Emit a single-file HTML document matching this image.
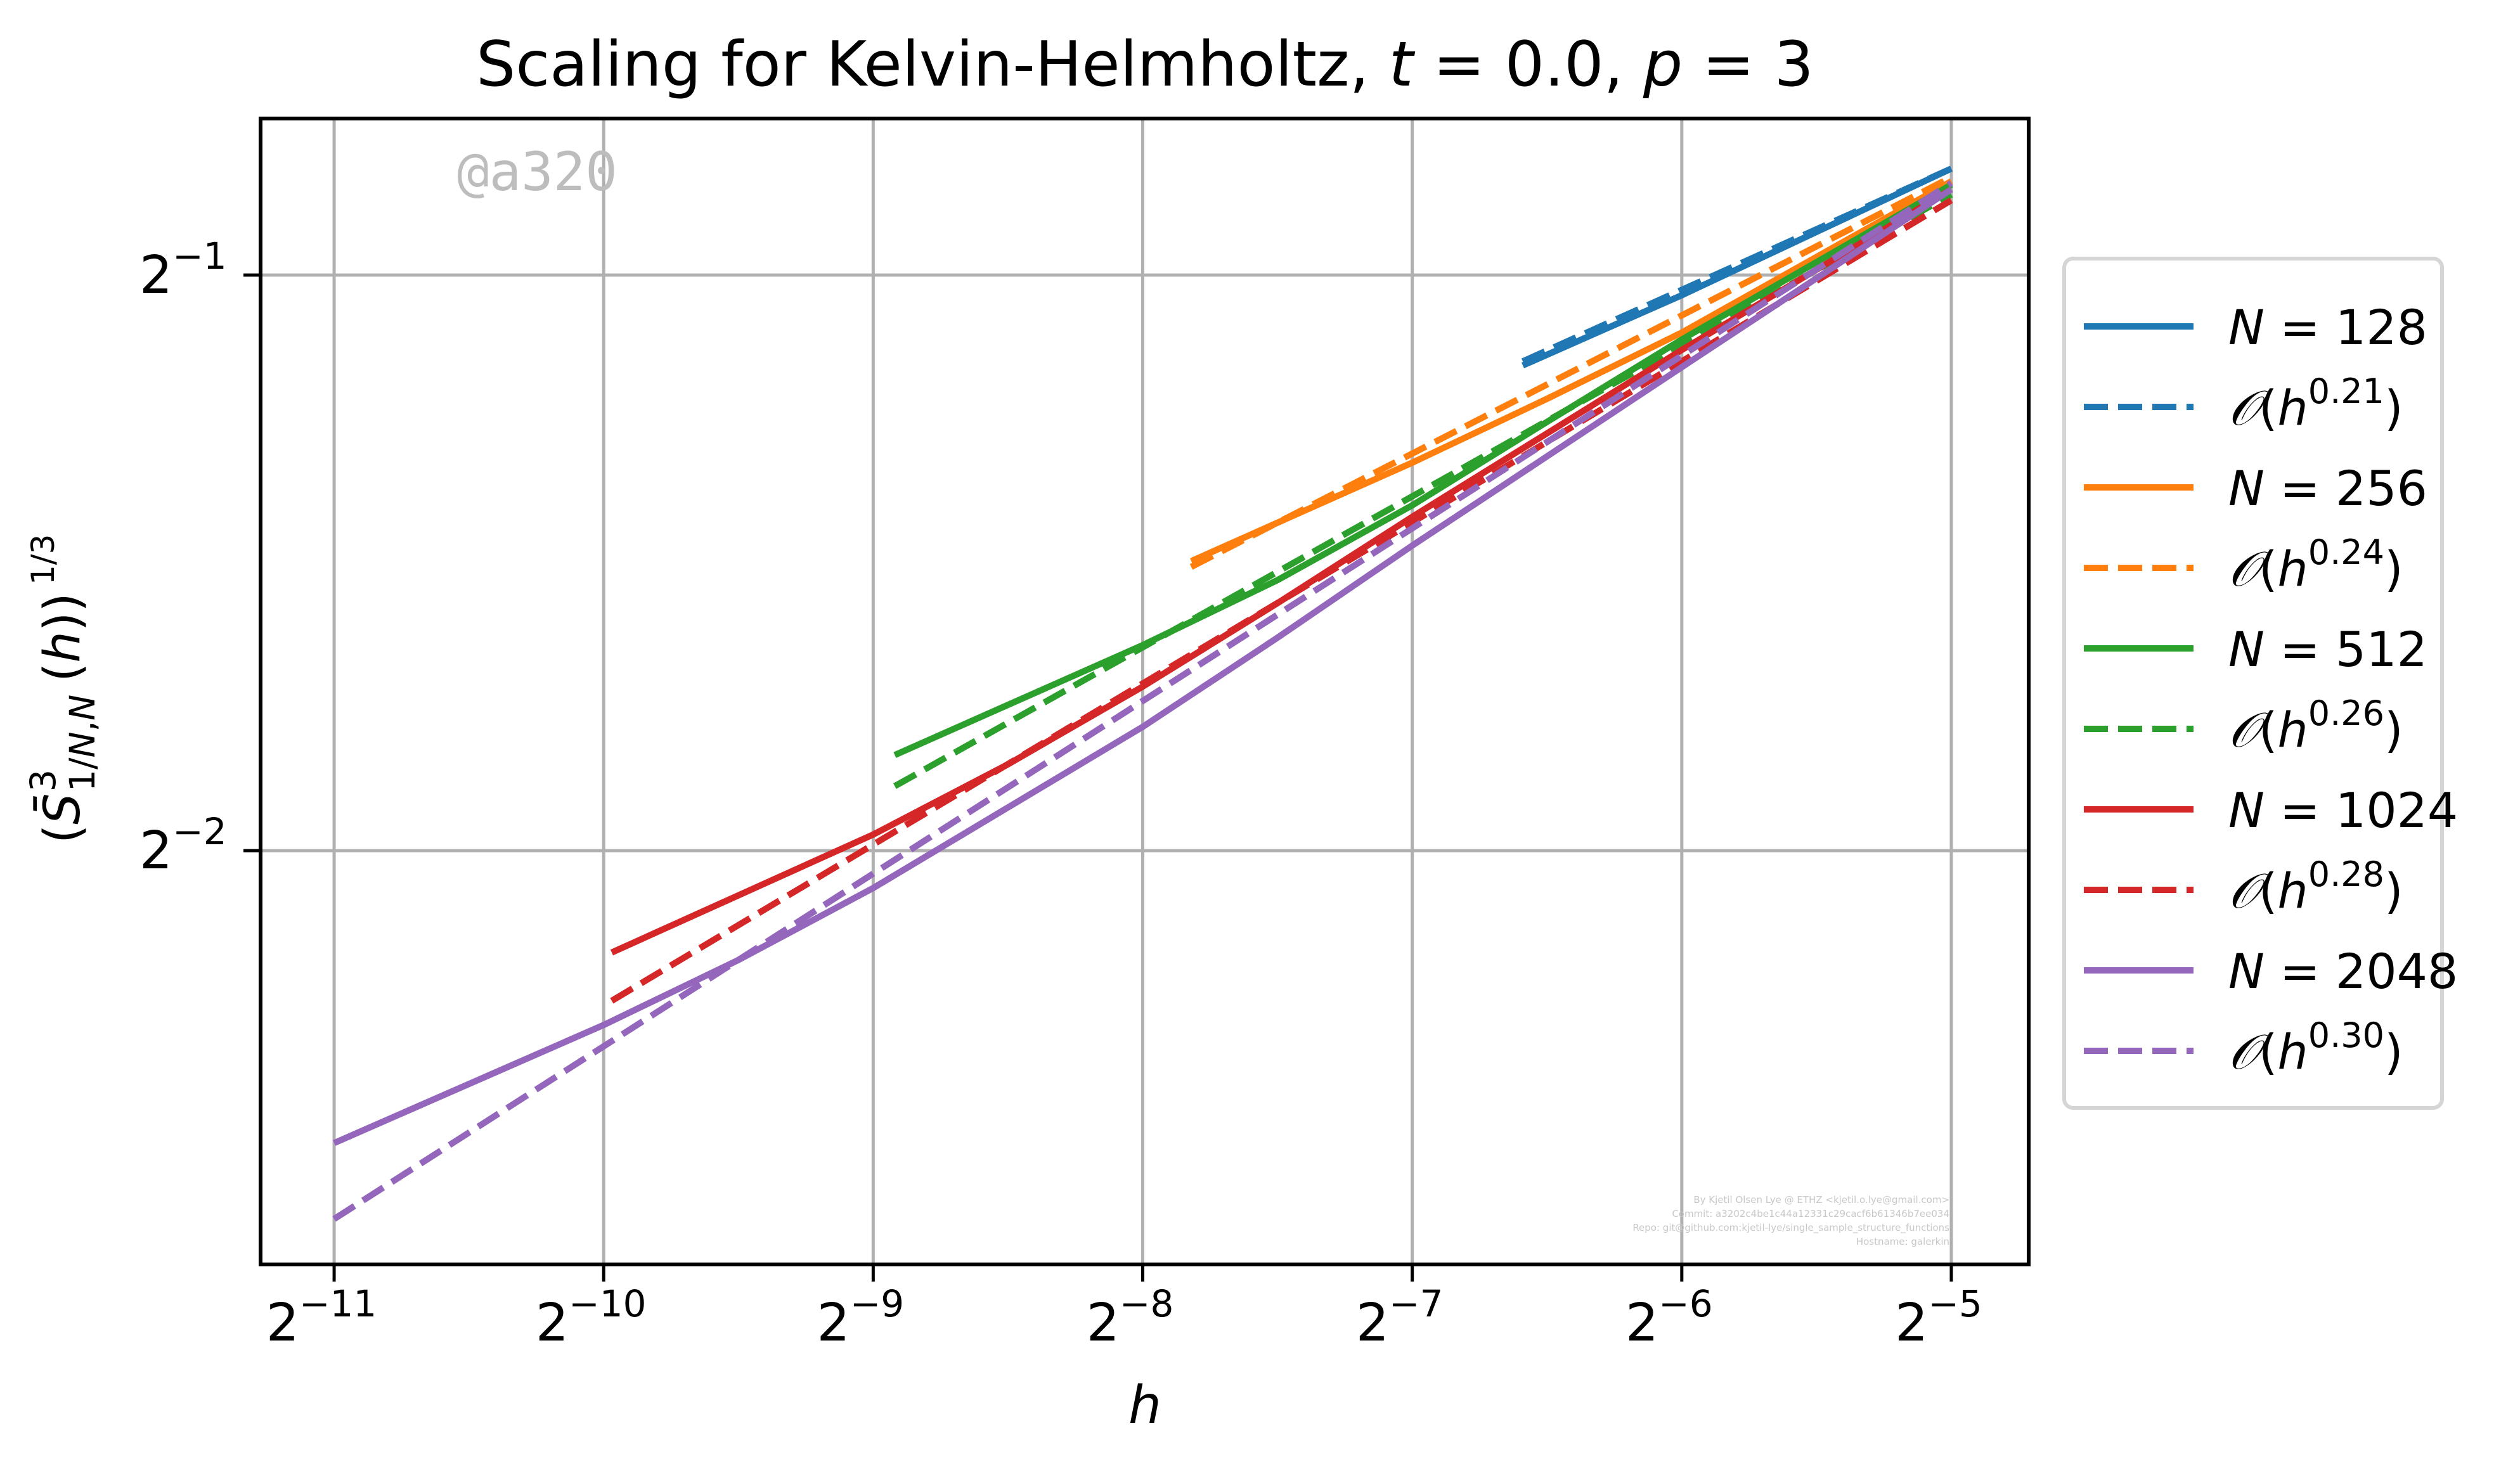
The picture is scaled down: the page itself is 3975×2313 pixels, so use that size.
<!DOCTYPE html>
<html><head><meta charset="utf-8"><style>
html,body{margin:0;padding:0;background:#fff}
svg{display:block}
text{font-family:"DejaVu Sans","Liberation Sans",sans-serif}
</style></head><body>
<svg id="chart" width="3975" height="2313" viewBox="0 0 3975 2313" xmlns="http://www.w3.org/2000/svg">
<rect width="3975" height="2313" fill="#fff"/>
<text x="1806" y="135" font-size="98" text-anchor="middle">Scaling for Kelvin-Helmholtz, <tspan font-style="italic">t</tspan> = 0.0, <tspan font-style="italic">p</tspan> = 3</text>
<g id="grid"></g>
<g id="series"></g>
<text x="721" y="300" font-size="84" fill="#bdbdbd" style="font-family:'DejaVu Sans Mono','Liberation Mono',monospace">@a320</text>
<g font-size="15" fill="#c8c8c8" text-anchor="end">
<text x="3075" y="1898">By Kjetil Olsen Lye @ ETHZ &lt;kjetil.o.lye@gmail.com&gt;</text>
<text x="3075" y="1920">Commit: a3202c4be1c44a12331c29cacf6b61346b7ee034</text>
<text x="3075" y="1942">Repo: git@github.com:kjetil-lye/single_sample_structure_functions</text>
<text x="3075" y="1964">Hostname: galerkin</text>
</g>
<rect x="411" y="187" width="2789" height="1808" fill="none" stroke="#000" stroke-width="6"/>
<g id="ticks"></g>
<text x="1806" y="2245" font-size="82" font-style="italic" text-anchor="middle">h</text>
<g transform="translate(125,1091) rotate(-90)" font-size="78">
<text x="-240" y="0">(</text>
<text x="-210" y="0" font-style="italic">S̄</text>
<text x="-158" y="-38" font-size="55">3</text>
<text x="-158" y="24" font-size="55">1/<tspan font-style="italic">N</tspan>,<tspan font-style="italic">N</tspan></text>
<text x="15" y="0">(<tspan font-style="italic">h</tspan>))</text>
<text x="168" y="-40" font-size="50">1/3</text>
</g>
<g id="legend">
<rect x="3256" y="408" width="596" height="1340" rx="14" fill="#fff" stroke="#d5d5d5" stroke-width="6"/>
</g>
</svg>
<script>
const xTicks = [-11, -10, -9, -8, -7, -6, -5];
const yTicks = [-2, -1];
const seriesNames = ["128", "256", "512", "1024", "2048"];
const colors = ["#1f77b4", "#ff7f0e", "#2ca02c", "#d62728", "#9467bd"];
const slopes = ["0.21", "0.24", "0.26", "0.28", "0.30"];
// solid series: log2(h), log2(value)
const solid128X = [-6.59, -6.0, -5.5, -5.0];
const solid128Y = [-1.157, -1.035, -0.925, -0.815];
const solid256X = [-7.82, -7.0, -6.5, -6.0, -5.0];
const solid256Y = [-1.497, -1.326, -1.215, -1.100, -0.837];
const solid512X = [-8.92, -8.0, -7.5, -7.0, -6.5, -6.0, -5.0];
const solid512Y = [-1.834, -1.643, -1.530, -1.400, -1.255, -1.112, -0.843];
const solid1024X = [-9.97, -9.0, -8.5, -8.0, -7.5, -7.0, -6.5, -6.0, -5.0];
const solid1024Y = [-2.177, -1.972, -1.850, -1.715, -1.570, -1.420, -1.275, -1.130, -0.851];
const solid2048X = [-11, -10, -9.5, -9, -8.5, -8, -7.5, -7, -6.5, -6, -5];
const solid2048Y = [-2.508, -2.303, -2.190, -2.065, -1.925, -1.785, -1.630, -1.470, -1.315, -1.160, -0.851];
// fitted dashed lines: start/end in log2
const fitX0 = [-6.59, -7.82, -8.92, -9.97, -11];
const fitY0 = [-1.150, -1.507, -1.888, -2.261, -2.640];
const fitX1 = [-5, -5, -5, -5, -5];
const fitY1 = [-0.815, -0.83, -0.86, -0.87, -0.84];

const NS = "http://www.w3.org/2000/svg";
const X0 = 411, X1 = 3200, Y0 = 187, Y1 = 1995;
const xMin = -11.273, xMax = -4.713, yMin = -2.719, yMax = -0.728;
function sx(v){ return X0 + (v - xMin) / (xMax - xMin) * (X1 - X0); }
function sy(v){ return Y1 - (v - yMin) / (yMax - yMin) * (Y1 - Y0); }
function mk(tag, attrs, parent){ const e = document.createElementNS(NS, tag); for (const k in attrs) e.setAttribute(k, attrs[k]); parent.appendChild(e); return e; }

const grid = document.getElementById('grid'), ticks = document.getElementById('ticks');
xTicks.forEach(t => {
  const x = sx(t);
  const g = mk('line', {x1:x, x2:x, y1:Y0, y2:Y1, stroke:'#b0b0b0', 'stroke-width':5}, grid);
  
  
  mk('line', {x1:x, x2:x, y1:Y1, y2:Y1+27, stroke:'#000', 'stroke-width':5}, ticks);
  const tx = mk('text', {x:x-20, y:2115, 'font-size':82, 'text-anchor':'middle'}, ticks);
  
  
  tx.innerHTML = '2<tspan font-size="58" dy="-38">−' + (-t) + '</tspan>';
});
yTicks.forEach(t => {
  const y = sy(t);
  const g = mk('line', {x1:X0, x2:X1, y1:y, y2:y, stroke:'#b0b0b0', 'stroke-width':5}, grid);
  
  
  mk('line', {x1:X0-27, x2:X0, y1:y, y2:y, stroke:'#000', 'stroke-width':5}, ticks);
  const tx = mk('text', {x:220, y:y+28, 'font-size':82}, ticks);
  
  
  tx.innerHTML = '2<tspan font-size="58" dy="-38">−' + (-t) + '</tspan>';
});

const solidsX = [solid128X, solid256X, solid512X, solid1024X, solid2048X];
const solidsY = [solid128Y, solid256Y, solid512Y, solid1024Y, solid2048Y];
const ser = document.getElementById('series');
const legend = document.getElementById('legend');
seriesNames.forEach((n, i) => {
  const pts = solidsX[i].map((v, j) => sx(v).toFixed(1) + ',' + sy(solidsY[i][j]).toFixed(1)).join(' ');
  const s = mk('polyline', {points:pts, fill:'none', stroke:colors[i], 'stroke-width':10, 'stroke-linejoin':'round'}, ser);
  
  
  const d = mk('line', {x1:sx(fitX0[i]), y1:sy(fitY0[i]), x2:sx(fitX1[i]), y2:sy(fitY1[i]), stroke:colors[i], 'stroke-width':10, 'stroke-dasharray':'38,16'}, ser);
  
  
  const ya = 515 + i * 254, yb = ya + 127;
  const l1 = mk('line', {x1:3287, x2:3460, y1:ya, y2:ya, stroke:colors[i], 'stroke-width':10}, legend);
  
  
  const t1 = mk('text', {x:3515, y:ya+28, 'font-size':76}, legend);
  
  
  t1.innerHTML = '<tspan font-style="italic">N</tspan> = ' + n;
  const l2 = mk('line', {x1:3287, x2:3460, y1:yb, y2:yb, stroke:colors[i], 'stroke-width':10, 'stroke-dasharray':'38,16'}, legend);
  
  
  const t2 = mk('text', {x:3515, y:yb+28, 'font-size':76}, legend);
  
  
  t2.innerHTML = '<tspan font-style="italic">𝒪</tspan>(<tspan font-style="italic">h</tspan><tspan font-size="54" dy="-34">' + slopes[i] + '</tspan><tspan dy="34">)</tspan>';
});
</script>
</body></html>
